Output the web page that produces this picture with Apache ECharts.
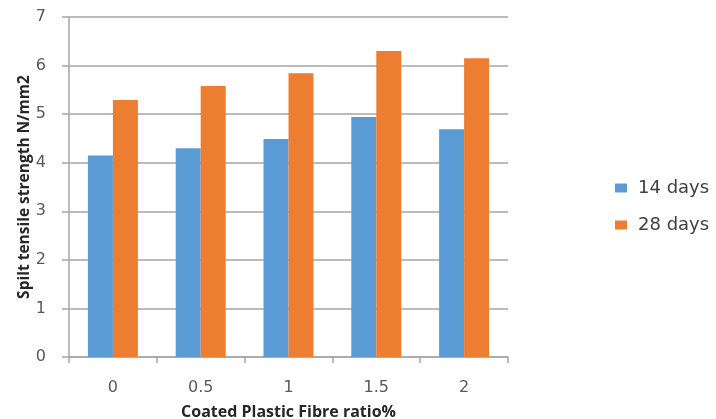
<!DOCTYPE html>
<html>
<head>
<meta charset="utf-8">
<script src="https://cdn.jsdelivr.net/npm/echarts@6/dist/echarts.min.js"></script>
<style>
  html, body { margin: 0; padding: 0; background: #ffffff; }
  #chart { width: 716px; height: 419px; }
</style>
</head>
<body>
<div id="chart"></div>
<script>
// Fibre ratio categories (%)
const categories = ['0', '0.5', '1', '1.5', '2'];
// Split tensile strength (N/mm2) at each curing age
const days14 = [4.15, 4.3, 4.49, 4.94, 4.69];
const days28 = [5.29, 5.58, 5.84, 6.3, 6.15];
const seriesNames = ['14 days', '28 days'];

const chart = echarts.init(document.getElementById('chart'));

chart.setOption({
  animation: false,
  backgroundColor: '#ffffff',
  grid: { left: 69, right: 208, top: 17, bottom: 62, containLabel: false, outerBoundsMode: 'none' },
  legend: {
    orient: 'vertical',
    left: 615,
    top: 179,
    padding: 0,
    itemWidth: 12,
    itemHeight: 9,
    itemGap: 19,
    icon: 'rect',
    textStyle: { fontSize: 18, color: '#404040', fontFamily: 'DejaVu Sans', padding: [0, 0, 0, 6] },
    data: seriesNames
  },
  xAxis: {
    type: 'category',
    data: categories,
    name: 'Coated Plastic Fibre ratio%',
    nameLocation: 'middle',
    nameGap: 47,
    nameMoveOverlap: false,
    nameTextStyle: { fontSize: 16, fontWeight: 'bold', color: '#262626', fontFamily: 'Open Sans' },
    axisLine: { lineStyle: { color: '#a6a6a6', width: 1.5 } },
    axisTick: { show: true, length: 6, lineStyle: { color: '#a6a6a6', width: 1.5 } },
    axisLabel: { margin: 23, fontSize: 16, color: '#595959', fontFamily: 'DejaVu Sans' }
  },
  yAxis: {
    type: 'value',
    min: 0,
    max: 7,
    interval: 1,
    name: 'Spilt tensile strength N/mm2',
    nameLocation: 'middle',
    nameGap: 36,
    nameMoveOverlap: false,
    nameTextStyle: { fontSize: 15.5, fontWeight: 'bold', color: '#262626', fontFamily: 'Open Sans' },
    axisLine: { show: true, lineStyle: { color: '#a6a6a6', width: 1.5 } },
    axisTick: { show: true, length: 7, lineStyle: { color: '#a6a6a6', width: 1.5 } },
    splitLine: { lineStyle: { color: '#a6a6a6', width: 1.5 } },
    axisLabel: { margin: 23, fontSize: 16, color: '#595959', fontFamily: 'DejaVu Sans' }
  },
  series: [
    {
      name: seriesNames[0],
      type: 'bar',
      data: days14,
      barWidth: 25,
      barGap: '0%',
      itemStyle: { color: '#5b9bd5' }
    },
    {
      name: seriesNames[1],
      type: 'bar',
      data: days28,
      barWidth: 25,
      barGap: '0%',
      itemStyle: { color: '#ed7d31' }
    }
  ]
});
</script>
</body>
</html>
